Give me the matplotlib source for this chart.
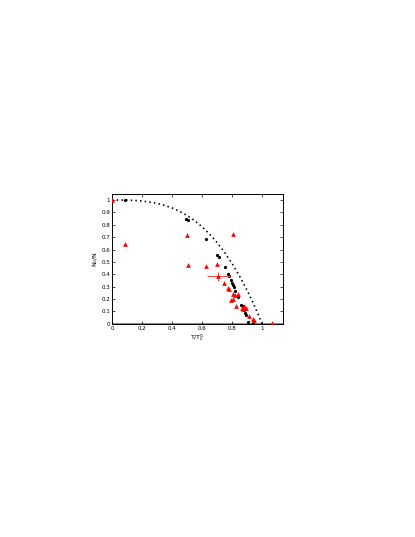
import numpy as np
import matplotlib.pyplot as plt

# theory curve
curve_t = [0.0, 0.05, 0.1, 0.15, 0.2, 0.25, 0.3, 0.35, 0.4, 0.45, 0.5, 0.55, 0.6,
           0.65, 0.7, 0.75, 0.8, 0.85, 0.9, 0.925, 0.95, 0.975, 1.0]
curve_n = [1.0, 1.0, 0.999, 0.997, 0.992, 0.984, 0.973, 0.957, 0.936, 0.909, 0.875,
           0.834, 0.784, 0.725, 0.657, 0.578, 0.488, 0.386, 0.271, 0.209, 0.143, 0.073, 0.0]

# black points
blk_t = [0.087, 0.494, 0.505, 0.626, 0.699, 0.710, 0.751, 0.773, 0.782, 0.793, 0.802,
         0.806, 0.813, 0.822, 0.840, 0.862, 0.871, 0.877, 0.884, 0.891, 0.906, 0.938]
blk_n = [1.0, 0.843, 0.835, 0.689, 0.559, 0.541, 0.459, 0.405, 0.386, 0.351, 0.332,
         0.316, 0.297, 0.262, 0.220, 0.154, 0.143, 0.114, 0.086, 0.070, 0.011, 0.003]

# red triangles
red_t = [0.0, 0.087, 0.497, 0.508, 0.626, 0.699, 0.804, 0.749, 0.773, 0.780, 0.808,
         0.820, 0.795, 0.804, 0.842, 0.826, 0.864, 0.871, 0.882, 0.891, 0.911, 0.938,
         0.945, 1.065]
red_n = [1.0, 0.641, 0.716, 0.476, 0.468, 0.486, 0.722, 0.330, 0.289, 0.284, 0.243,
         0.230, 0.189, 0.203, 0.243, 0.141, 0.127, 0.116, 0.141, 0.130, 0.062, 0.035,
         0.030, 0.008]

# point with error bars
err_t = [0.708]
err_n = [0.384]
err_dt = [0.078]
err_dn = [0.035]

fig = plt.figure(figsize=(4.15, 5.37), dpi=100)
ax = fig.add_axes([0.270, 0.397, 0.412, 0.242])

ax.axhline(0, color='gray', lw=1.3, zorder=1)
ax.plot(curve_t, curve_n, color='black', linestyle=(0, (0.9, 1.9)), lw=1.2, zorder=2)
ax.plot(blk_t, blk_n, 'o', color='black', markersize=2.3, markeredgewidth=0, zorder=3)
ax.plot(red_t, red_n, '^', color='red', markersize=3.4, markeredgewidth=0, zorder=4)
ax.errorbar(err_t, err_n, xerr=err_dt, yerr=err_dn, fmt='^', color='red',
            ecolor='#ff4040', elinewidth=0.7, capsize=1.2, capthick=0.6,
            markersize=3.4, markeredgewidth=0, zorder=5)

ax.set_xlim(0, 1.14)
ax.set_ylim(0, 1.05)
ax.set_xticks([0, 0.2, 0.4, 0.6, 0.8, 1.0])
ax.set_xticklabels(['0', '0.2', '0.4', '0.6', '0.8', '1'])
ax.set_yticks(np.arange(0, 1.01, 0.1))
ax.set_yticklabels(['0', '0.1', '0.2', '0.3', '0.4', '0.5', '0.6', '0.7', '0.8', '0.9', '1'])
ax.tick_params(direction='in', top=True, right=True, length=2, width=0.5,
               labelsize=4, pad=1.5)
for s in ax.spines.values():
    s.set_linewidth(0.7)

ax.set_xlabel(r'T/T$_C^0$', fontsize=4.5, labelpad=1)
ax.set_ylabel(r'N$_0$/N', fontsize=4.5, labelpad=1)

fig.savefig('out.png', dpi=100)
